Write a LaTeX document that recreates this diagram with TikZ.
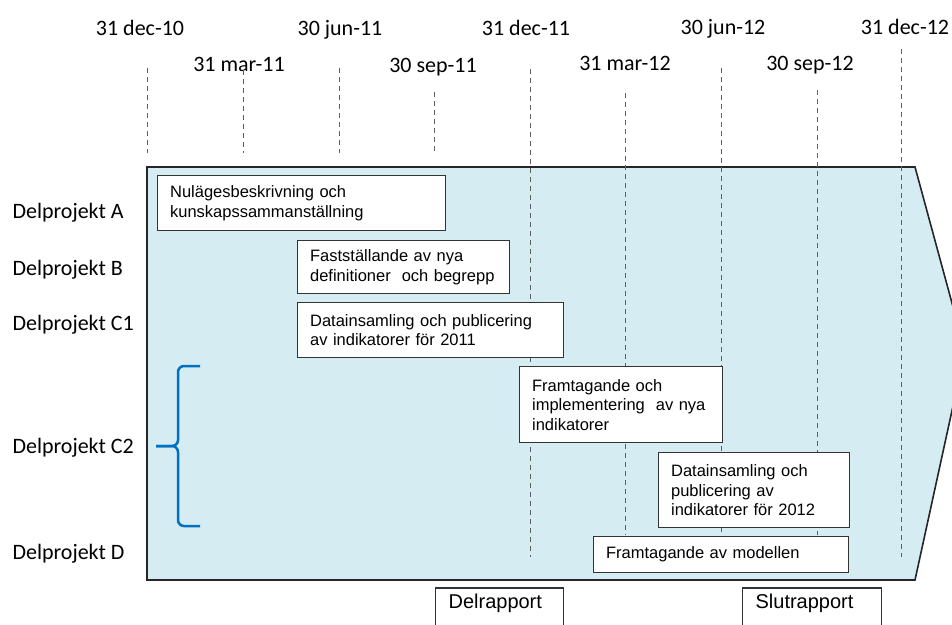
\documentclass[tikz,border=0pt]{standalone}
\usepackage{fontspec}
\setmainfont{Carlito}
\newfontfamily\arialfont{Liberation Sans}
\usepackage{tikz}
\definecolor{phaseblue}{RGB}{213,236,243}
\definecolor{bracketblue}{RGB}{0,112,192}
\definecolor{guidegrey}{RGB}{95,95,95}

\begin{document}
\begin{tikzpicture}[x=1pt,y=-1pt,
    guide/.style={draw=guidegrey,line width=1pt,dash pattern=on 5pt off 4pt},
    task/.style={draw=black!80,fill=white,line width=1.2pt,anchor=north west,
                 align=left,inner xsep=12.5pt,inner ysep=0pt,
                 font=\arialfont\fontsize{16.5}{19.5}\selectfont},
    report/.style={draw=black!80,fill=white,line width=1.2pt,anchor=base west,
                   align=left,inner xsep=13pt,inner ysep=4pt,
                   text height=16pt,text depth=25pt,
                   font=\arialfont\fontsize{20}{24}\selectfont}]
\useasboundingbox (0,0) rectangle (952,624);
\clip (0,0) rectangle (952,624);

% the phase arrow
\draw[fill=phaseblue,draw=black!85,line width=1.6pt]
    (147,167) -- (915,167) -- (965,351) -- (915,580) -- (147,580) -- cycle;

% dates
\begin{scope}[every node/.style={anchor=base,font=\fontsize{22}{26}\selectfont}]
	\node (dec10) at (140,35) {31 dec-10};
	\node (mar11) at (239,71) {31 mar-11};
	\node (jun11) at (340,35) {30 jun-11};
	\node (sep11) at (433,72) {30 sep-11};
	\node (dec11) at (526,35) {31 dec-11};
	\node (mar12) at (625,70) {31 mar-12};
	\node (jun12) at (723,34) {30 jun-12};
	\node (sep12) at (810,70) {30 sep-12};
	\node (dec12) at (905,34) {31 dec-12};
\end{scope}

% guide lines
\draw[guide] (147,68) -- (147,153);
\draw[guide,draw=bracketblue] (243,70) -- (243,153);
\draw[guide] (339,68) -- (339,153);
\draw[guide] (434,92) -- (434,153);
\draw[guide] (530,69) -- (530,557);
\draw[guide] (625,93) -- (625,535);
\draw[guide] (721,68) -- (721,535);
\draw[guide] (817,90) -- (817,535);
\draw[guide] (901,49) -- (901,557);

% rows
\begin{scope}[every node/.style={anchor=base west,font=\fontsize{22}{26}\selectfont}]
	\node (rowA) at (9,218) {Delprojekt A};
	\node (rowB) at (9,275) {Delprojekt B};
	\node (rowC1) at (9,330) {Delprojekt C1};
	\node (rowC2) at (9,453) {Delprojekt C2};
	\node (rowD) at (9,559) {Delprojekt D};
\end{scope}

% brace for C2
\draw[bracketblue,line width=2.5pt,rounded corners=6pt]
    (200,366) -- (178,366) -- (178,446) -- (156,446);
\draw[bracketblue,line width=2.5pt,rounded corners=6pt]
    (156,446) -- (178,446) -- (178,526) -- (200,526);

% tasks
\node[task,text width=263pt,minimum height=55pt] (taskA) at (157,175)
    {Nulägesbeskrivning och\\kunskapssammanställning};
\node[task,text width=187pt,minimum height=53pt] (taskB) at (297,240)
    {Fastställande av nya\\definitioner~ och begrepp};
\node[task,text width=241pt,minimum height=55pt] (taskC1) at (297,302)
    {Datainsamling och publicering\\av indikatorer för 2011};
\node[task,text width=178pt,minimum height=76pt] (taskC2a) at (519,366)
    {Framtagande och\\implementering~ av nya\\indikatorer};
\node[task,text width=166pt,minimum height=75pt] (taskC2b) at (658,452)
    {Datainsamling och\\publicering av\\indikatorer för 2012};
\node[task,text width=230pt,minimum height=36pt] (taskD) at (593,536)
    {Framtagande av modellen};

% reports
\node[report,text width=102pt] (delrapport) at (435,608) {Delrapport};
\node[report,text width=113pt] (slutrapport) at (742,608) {Slutrapport};
\end{tikzpicture}
\end{document}
